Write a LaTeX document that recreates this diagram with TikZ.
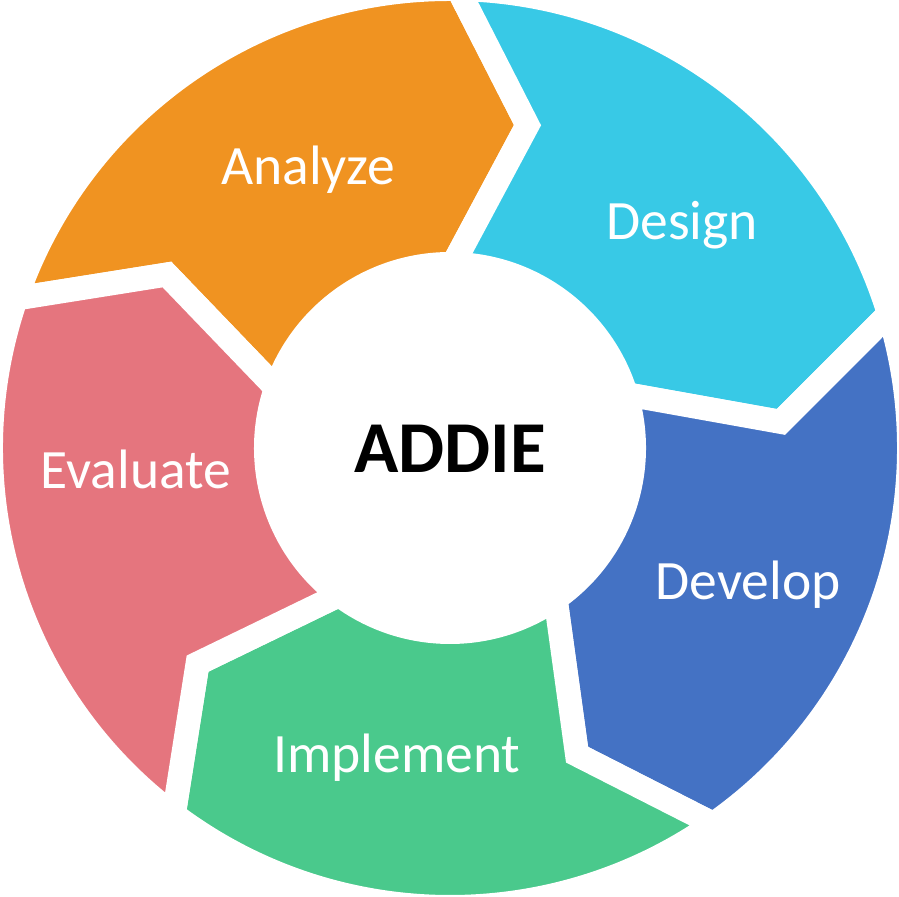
\documentclass[tikz,border=0pt]{standalone}
\usepackage{fontspec}
\setmainfont{Carlito}

\definecolor{analyzecol}{RGB}{240,147,33}
\definecolor{designcol}{RGB}{56,201,230}
\definecolor{developcol}{RGB}{68,114,196}
\definecolor{implementcol}{RGB}{74,201,140}
\definecolor{evaluatecol}{RGB}{229,117,126}

\tikzset{
  segment/.style={draw=white, line width=0.24cm, line join=miter},
  phase/.style={text=white, anchor=base, inner sep=0pt, font=\fontsize{15.8pt}{19pt}\selectfont},
}

\begin{document}
\begin{tikzpicture}[scale=1.0]

\useasboundingbox (-4.50,-4.48) rectangle (4.49,4.48);

% radii of the ring, white gap taken half from each side
\def\Rout{4.59}
\def\Rin{1.84}
\def\Rmid{3.32}
\def\Tip{12.5}

\filldraw[segment, fill=analyzecol] (161:\Rout) arc (161:89:\Rout) -- ({89-\Tip}:\Rmid) -- (89:\Rin)
  arc (89:161:\Rin) -- ({161-\Tip}:\Rmid) -- cycle;
\filldraw[segment, fill=designcol] (89:\Rout) arc (89:17:\Rout) -- ({17-\Tip}:\Rmid) -- (17:\Rin)
  arc (17:89:\Rin) -- ({89-\Tip}:\Rmid) -- cycle;
\filldraw[segment, fill=developcol] (17:\Rout) arc (17:-55:\Rout) -- ({-55-\Tip}:\Rmid) -- (-55:\Rin)
  arc (-55:17:\Rin) -- ({17-\Tip}:\Rmid) -- cycle;
\filldraw[segment, fill=implementcol] (-55:\Rout) arc (-55:-127:\Rout) -- ({-127-\Tip}:\Rmid) -- (-127:\Rin)
  arc (-127:-55:\Rin) -- ({-55-\Tip}:\Rmid) -- cycle;
\filldraw[segment, fill=evaluatecol] (-127:\Rout) arc (-127:-199:\Rout) -- ({-199-\Tip}:\Rmid) -- (-199:\Rin)
  arc (-199:-127:\Rin) -- ({-127-\Tip}:\Rmid) -- cycle;

\node[phase] (analyze) at (-1.42, 2.63) {Analyze};
\node[phase] (design) at ( 2.32, 2.08) {Design};
\node[phase] (develop) at ( 2.98,-1.52) {Develop};
\node[phase] (implement) at (-0.53,-3.24) {Implement};
\node[phase] (evaluate) at (-3.14,-0.41) {Evaluate};

\node[anchor=base, inner sep=0pt, font=\fontsize{20.8pt}{25pt}\selectfont\bfseries] (addie) at (0.0,-0.25) {ADDIE};

\end{tikzpicture}
\end{document}
